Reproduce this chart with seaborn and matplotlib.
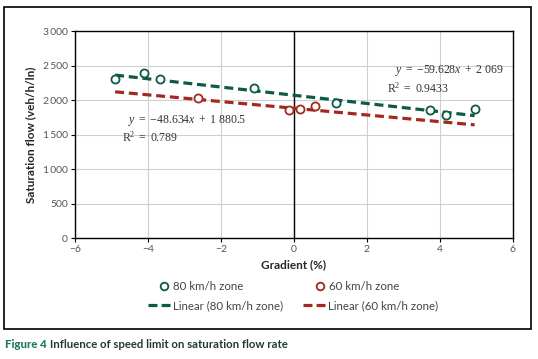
import numpy as np
import pandas as pd
import matplotlib
matplotlib.use("Agg")
import matplotlib.pyplot as plt
import seaborn as sns
from matplotlib.patches import Rectangle
from matplotlib.ticker import FuncFormatter

# data
grad_80 = [-4.9, -4.1, -3.67, -1.09, 1.14, 3.73, 4.16, 4.95]
flow_80 = [2305, 2395, 2305, 2175, 1955, 1850, 1785, 1875]
grad_60 = [-2.63, -0.13, 0.16, 0.57]
flow_60 = [2030, 1860, 1870, 1910]

# trendline equations as printed on the chart
slope_80, icpt_80, r2_80 = -59.628, 2069, 0.9433
slope_60, icpt_60, r2_60 = -48.634, 1880.5, 0.789
trend_x = [-4.9, 4.95]

green = "#0d5a47"
red = "#a3291f"

sns.set_theme(style="white")
plt.rcParams['font.family'] = ['Lato', 'DejaVu Sans']
plt.rcParams['mathtext.fontset'] = 'custom'
plt.rcParams['mathtext.rm'] = 'Liberation Serif'
plt.rcParams['mathtext.it'] = 'Liberation Serif:italic'

tx = np.array(trend_x)
lines = pd.concat([
    pd.DataFrame({"Gradient": tx, "Flow": slope_80 * tx + icpt_80, "Zone": "Linear (80 km/h zone)"}),
    pd.DataFrame({"Gradient": tx, "Flow": slope_60 * tx + icpt_60, "Zone": "Linear (60 km/h zone)"}),
])

fig = plt.figure(figsize=(5.38, 3.59), dpi=100)
ax = fig.add_axes([0.1394, 0.337, 0.814, 0.5766])

# outer frame around chart
fig.patches.append(Rectangle((4 / 538, 1 - 329 / 359), 527 / 538, 322 / 359,
                             transform=fig.transFigure, fill=False,
                             edgecolor="black", linewidth=1.2))

sns.lineplot(data=lines, x="Gradient", y="Flow", hue="Zone",
             palette={"Linear (80 km/h zone)": green, "Linear (60 km/h zone)": red},
             linewidth=2.3, ax=ax, legend=False, zorder=2)
for l in ax.lines:
    l.set_dashes([2.8, 1.5])

sns.scatterplot(x=grad_80, y=flow_80, ax=ax, s=34, facecolor="white",
                edgecolor=green, linewidth=1.3, zorder=3, legend=False)
sns.scatterplot(x=grad_60, y=flow_60, ax=ax, s=34, facecolor="white",
                edgecolor=red, linewidth=1.3, zorder=3, legend=False)

ax.axvline(0, color="black", linewidth=1, zorder=1)
ax.set_xlim(-6, 6)
ax.set_ylim(0, 3000)
ax.set_xticks(range(-6, 7, 2))
ax.set_yticks(range(0, 3001, 500))
ax.yaxis.set_major_formatter(FuncFormatter(lambda v, p: f"{int(v):,}".replace(",", "\u2009")))
ax.grid(True, color="#cfcfcf", linewidth=0.8)
ax.set_axisbelow(True)
for s in ax.spines.values():
    s.set_color("black")
    s.set_linewidth(1)
ax.tick_params(axis="both", which="major", length=3, width=0.8, color="black",
               labelsize=7.5, labelcolor="#555555", direction="out", pad=2)
ax.tick_params(axis="x", bottom=True)
ax.tick_params(axis="y", left=True)
ax.set_xlabel("Gradient (%)", fontsize=8.5, fontweight="bold", labelpad=4)
ax.set_ylabel("Saturation flow (veh/h/ln)", fontsize=8.5, fontweight="bold", labelpad=5)

# equations
eq_style = dict(fontsize=8.5, color="#333333", va="center")
ax.text(5.75, 2435, r"$y\ =\ \mathrm{-59.628}x\ +\ \mathrm{2\ 069}$", ha="right", **eq_style)
ax.text(2.55, 2174, r"$\mathrm{R^2\ =\ 0.9433}$", ha="left", **eq_style)
ax.text(-4.55, 1710, r"$y\ =\ \mathrm{-48.634}x\ +\ \mathrm{1\ 880.5}$", ha="left", **eq_style)
ax.text(-4.71, 1464, r"$\mathrm{R^2\ =\ 0.789}$", ha="left", **eq_style)

# legend, one entry each so they sit where the original places them
h80 = plt.Line2D([], [], linestyle="none", marker="o", markersize=5.5,
                 markerfacecolor="white", markeredgecolor=green, markeredgewidth=1.3)
h60 = plt.Line2D([], [], linestyle="none", marker="o", markersize=5.5,
                 markerfacecolor="white", markeredgecolor=red, markeredgewidth=1.3)
hl80 = plt.Line2D([], [], color=green, linewidth=2.3, dashes=[2.8, 1.3])
hl60 = plt.Line2D([], [], color=red, linewidth=2.3, dashes=[2.8, 1.3])
entries = [
    (h80, "80 km/h zone", 158, 287, 1.0),
    (h60, "60 km/h zone", 314, 287, 1.0),
    (hl80, "Linear (80 km/h zone)", 148, 306, 1.9),
    (hl60, "Linear (60 km/h zone)", 303, 306, 1.9),
]
for h, lab, px, py, hlen in entries:
    fig.legend([h], [lab], loc="center left", bbox_to_anchor=(px / 538, 1 - py / 359),
               frameon=False, fontsize=8.3, labelcolor="#444444", handlelength=hlen,
               handletextpad=0.3, borderpad=0, borderaxespad=0)

# caption: second part placed right after the measured first part
cap_y = 1 - 344 / 359
t1 = fig.text(5 / 538, cap_y, "Figure 4", fontsize=8.2, fontweight="black",
              color="#1c7a63", va="center", ha="left")
bb = t1.get_window_extent(renderer=fig.canvas.get_renderer())
fig.text(bb.x1 / fig.bbox.width + 3 / 538, cap_y,
         "Influence of speed limit on saturation flow rate",
         fontsize=8.2, fontweight="bold", color="#1e3b38", va="center", ha="left")

fig.savefig("out.png", dpi=100)
